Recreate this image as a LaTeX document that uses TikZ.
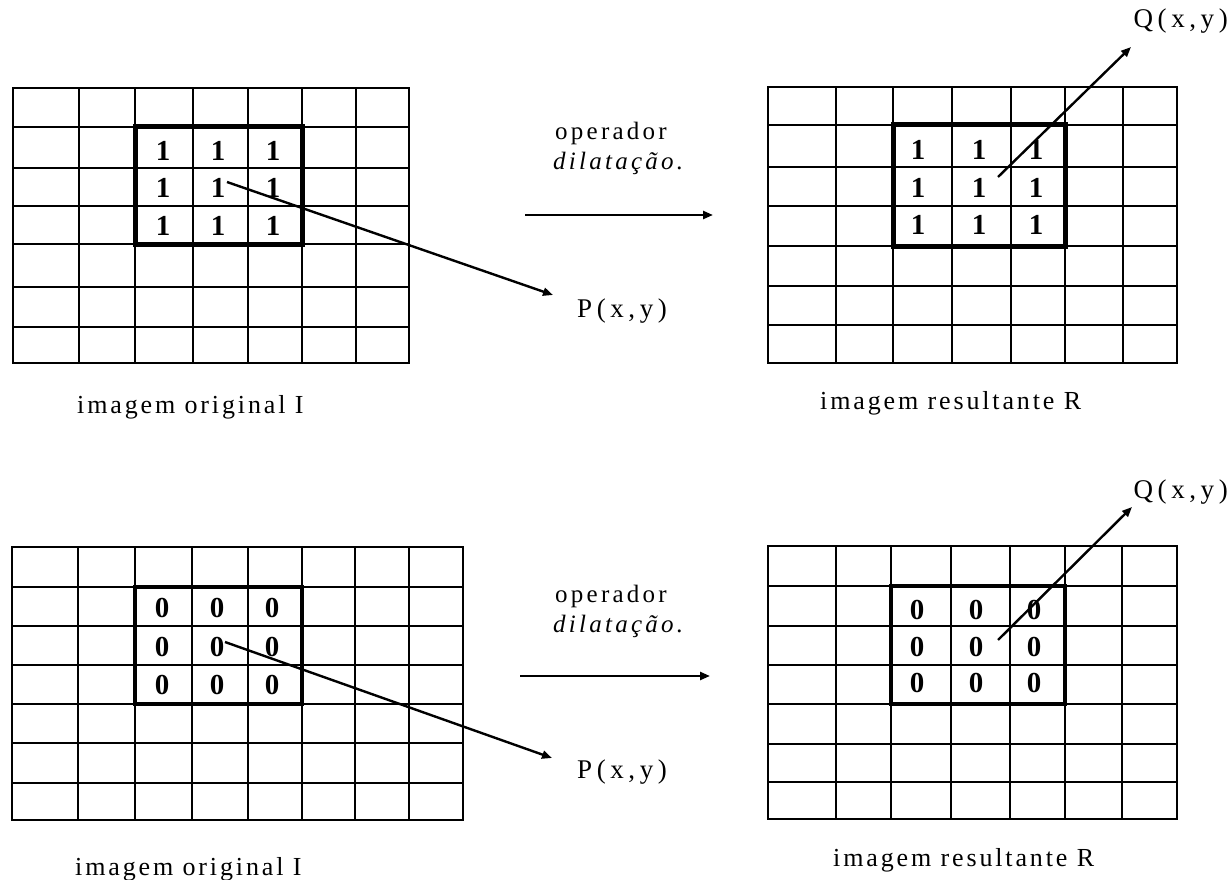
\documentclass[tikz,border=0pt]{standalone}
\usepackage{fontspec}
\setmainfont{Liberation Serif}
\newfontfamily\spcA[LetterSpace=11]{Liberation Serif}
\newfontfamily\spcB[LetterSpace=13]{Liberation Serif}
\newfontfamily\spcC[LetterSpace=17]{Liberation Serif}
\usetikzlibrary{arrows.meta}
\begin{document}
\begin{tikzpicture}[x=1pt,y=-1pt,
  gridline/.style={line width=2.6pt, line cap=rect},
  boxA/.style={line width=5pt},
  boxB/.style={line width=3.8pt},
  dig/.style={font=\fontsize{29}{29}\selectfont\bfseries, inner sep=0pt},
  lbl/.style={font=\spcA\fontsize{26}{30}\selectfont, inner sep=0pt},
  opl/.style={font=\spcB\fontsize{25}{29}\selectfont, inner sep=0pt},
  opli/.style={font=\spcB\itshape\fontsize{25}{29}\selectfont, inner sep=0pt},
  pq/.style={font=\spcC\fontsize{27}{31}\selectfont, inner sep=0pt},
  conn/.style={line width=2.4pt, -{Triangle[length=10pt,width=8pt]}},
]
\useasboundingbox (0,0) rectangle (1229,880);

% ---------- grid 1 (top left) ----------
\foreach \x in {13,79,135,193,248,302,356,409} \draw[gridline] (\x,88) -- (\x,363);
\foreach \y in {88,127,168,206,244,287,327,363} \draw[gridline] (13,\y) -- (409,\y);
\draw[boxA] (135,127) rectangle (302,244);
\foreach \c/\xx in {1/163,2/218,3/273}
  \foreach \r/\yy in {1/151,2/188,3/226}
    \node[dig] (a\r\c) at (\xx,\yy) {1};

% ---------- grid 2 (top right) ----------
\foreach \x in {768,836,893,952,1011,1065,1123,1177} \draw[gridline] (\x,87) -- (\x,363);
\foreach \y in {87,125,167,206,246,286,325,363} \draw[gridline] (768,\y) -- (1177,\y);
\draw[boxA] (893,125) rectangle (1065,246);
\foreach \c/\xx in {1/918,2/979,3/1036}
  \foreach \r/\yy in {1/150,2/188,3/225}
    \node[dig] (b\r\c) at (\xx,\yy) {1};

% ---------- grid 3 (bottom left) ----------
\foreach \x in {12,78,135,192,248,302,355,409,463} \draw[gridline] (\x,547) -- (\x,820);
\foreach \y in {547,587,626,665,704,743,783,820} \draw[gridline] (12,\y) -- (463,\y);
\draw[boxB] (135,587) rectangle (302,704);
\foreach \c/\xx in {1/162,2/217,3/272}
  \foreach \r/\yy in {1/608,2/647,3/685}
    \node[dig] (c\r\c) at (\xx,\yy) {0};

% ---------- grid 4 (bottom right) ----------
\foreach \x in {768,836,891,951,1010,1065,1122,1177} \draw[gridline] (\x,546) -- (\x,819);
\foreach \y in {546,586,626,665,704,744,782,819} \draw[gridline] (768,\y) -- (1177,\y);
\draw[boxB] (891,586) rectangle (1065,704);
\foreach \c/\xx in {1/917,2/976,3/1034}
  \foreach \r/\yy in {1/610,2/647,3/683}
    \node[dig] (d\r\c) at (\xx,\yy) {0};

% ---------- labels ----------
\node[opl, anchor=base west] (op1) at (555,140) {operador};
\node[opli, anchor=base west] (di1) at (553,169) {dilatação.};
\node[opl, anchor=base west] (op2) at (555,602) {operador};
\node[opli, anchor=base west] (di2) at (553,632) {dilatação.};

\node[pq, anchor=west] (P1) at (577,311) {P(x,y)};
\node[pq, anchor=west] (P2) at (577,772) {P(x,y)};
\node[pq, anchor=east] (Q1) at (1228,21) {Q(x,y)};
\node[pq, anchor=east] (Q2) at (1228,492) {Q(x,y)};

\node[lbl, anchor=base west] (L1) at (77,413) {imagem original I};
\node[lbl, anchor=base west] (L2) at (820,409) {imagem resultante R};
\node[lbl, anchor=base west] (L3) at (75,875) {imagem original I};
\node[lbl, anchor=base west] (L4) at (833,866) {imagem resultante R};

% ---------- connectors ----------
\coordinate (p1s) at (227,182);
\coordinate (p1t) at (553,295);
\coordinate (p2s) at (225,642);
\coordinate (p2t) at (552,758);
\coordinate (q1s) at (998,177);
\coordinate (q1t) at (1131,47);
\coordinate (q2s) at (998,640);
\coordinate (q2t) at (1132,507);
\coordinate (h1s) at (525,215);
\coordinate (h1t) at (713,215);
\coordinate (h2s) at (520,676);
\coordinate (h2t) at (710,676);

\draw[conn] (p1s) -- (p1t);
\draw[conn] (p2s) -- (p2t);
\draw[conn] (q1s) -- (q1t);
\draw[conn] (q2s) -- (q2t);
\draw[conn] (h1s) -- (h1t);
\draw[conn] (h2s) -- (h2t);
\end{tikzpicture}
\end{document}
